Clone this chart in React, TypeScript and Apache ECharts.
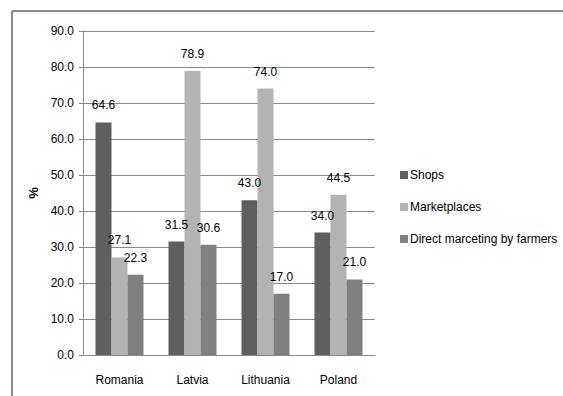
import React, { useEffect, useRef } from "react";
import * as echarts from "echarts";

const categories = ["Romania", "Latvia", "Lithuania", "Poland"];
const shops = [64.6, 31.5, 43.0, 34.0];
const marketplaces = [27.1, 78.9, 74.0, 44.5];
const directMarketing = [22.3, 30.6, 17.0, 21.0];
const seriesNames = ["Shops", "Marketplaces", "Direct marceting by farmers"];
const colors = ["#5f5f5f", "#b3b3b3", "#808080"];

const FONT = "'Liberation Sans', Arial, sans-serif";

export default function App() {
  const ref = useRef<HTMLDivElement>(null);
  useEffect(() => {
    if (!ref.current) return;
    const chart = echarts.init(ref.current, undefined, { renderer: "svg" });
    const label = {
      show: true,
      position: "top" as const,
      distance: 11,
      color: "#000",
      fontFamily: FONT,
      fontSize: 12,
      formatter: (p: any) => Number(p.value).toFixed(1),
    };
    const data = [shops, marketplaces, directMarketing];
    chart.setOption({
      animation: false,
      backgroundColor: "#fff",
      textStyle: { fontFamily: FONT },
      grid: { left: 83, right: 188, top: 31, bottom: 41, containLabel: false },
      legend: {
        orient: "vertical",
        left: 395,
        top: 163,
        itemWidth: 8,
        itemHeight: 8,
        itemGap: 18,
        icon: "rect",
        data: seriesNames,
        textStyle: { fontFamily: FONT, fontSize: 12, color: "#000", lineHeight: 14, padding: [0, 0, 0, -3] },
      },
      xAxis: {
        type: "category",
        data: categories,
        axisLine: { lineStyle: { color: "#888", width: 1 } },
        axisTick: { show: false },
        axisLabel: { color: "#000", fontFamily: FONT, fontSize: 12, margin: 19 },
      },
      yAxis: {
        type: "value",
        min: 0,
        max: 90,
        interval: 10,
        name: "%",
        nameLocation: "middle",
        nameRotate: 90,
        nameGap: 42,
        nameTextStyle: { color: "#000", fontFamily: FONT, fontSize: 13, fontWeight: "bold" },
        axisLine: { show: true, lineStyle: { color: "#888", width: 1 } },
        axisTick: { show: true, length: 4, lineStyle: { color: "#888" } },
        axisLabel: {
          color: "#000",
          fontFamily: FONT,
          fontSize: 12,
          margin: 9,
          formatter: (v: number) => v.toFixed(1),
        },
        splitLine: { lineStyle: { color: "#888", width: 1 } },
      },
      series: seriesNames.map((name, i) => ({
        name,
        type: "bar",
        data: data[i],
        barWidth: 16,
        barGap: "0%",
        itemStyle: { color: colors[i] },
        label,
      })),
      graphic: [
        { type: "line", shape: { x1: 12, y1: 11, x2: 563, y2: 11 }, style: { stroke: "#8c8c8c", lineWidth: 2 } },
        { type: "line", shape: { x1: 12, y1: 11, x2: 12, y2: 396 }, style: { stroke: "#8c8c8c", lineWidth: 2 } },
      ],
    });
    return () => chart.dispose();
  }, []);
  return (
    <div
      ref={ref}
      style={{ position: "fixed", left: 0, top: 0, width: 563, height: 396 }}
    />
  );
}
